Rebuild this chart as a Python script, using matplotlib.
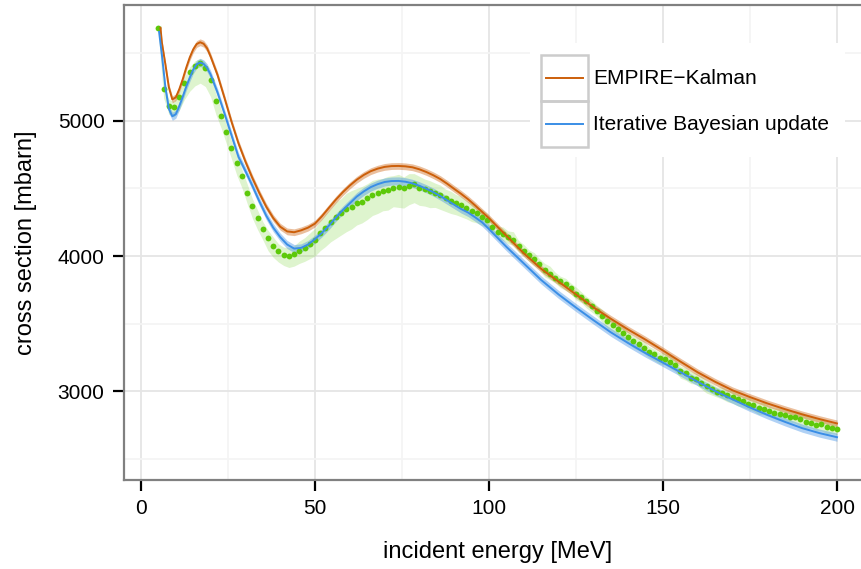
import matplotlib
matplotlib.use("Agg")
import matplotlib.pyplot as plt
from matplotlib.patches import Rectangle
import numpy as np

plt.rcParams["font.family"] = ["Liberation Sans", "DejaVu Sans"]

# EMPIRE-Kalman curve (orange)
kalman_e = [5.6, 6, 7, 8, 9, 10, 11, 12, 13, 14, 15, 16, 17, 18, 19, 20,
            22, 24, 26, 28, 30, 32, 34, 36, 38, 40, 42, 44, 46, 48, 50,
            52, 54, 56, 58, 60, 62, 64, 66, 68, 70, 72, 74, 76, 78, 80,
            82, 84, 86, 88, 90, 92, 94, 96, 98, 100, 105, 110, 115, 120,
            125, 130, 135, 140, 145, 150, 155, 160, 165, 170, 175, 180,
            185, 190, 195, 200]
kalman_xs = [5690, 5580, 5420, 5250, 5160, 5175, 5235, 5310, 5395, 5470,
             5530, 5570, 5583, 5572, 5538, 5478, 5340, 5170, 4995, 4835,
             4700, 4578, 4467, 4365, 4281, 4217, 4182, 4176, 4190, 4210,
             4240, 4295, 4357, 4418, 4473, 4522, 4565, 4600, 4628, 4647,
             4660, 4666, 4667, 4664, 4657, 4642, 4622, 4598, 4570, 4535,
             4497, 4460, 4420, 4375, 4327, 4280, 4150, 4020, 3905, 3810,
             3715, 3620, 3535, 3455, 3380, 3300, 3218, 3138, 3068, 3005,
             2955, 2908, 2866, 2827, 2792, 2760]
kalman_unc = 25

# Iterative Bayesian update curve (blue)
bayes_e = [5.2, 6, 7, 8, 9, 10, 11, 12, 13, 14, 15, 16, 17, 18, 19, 20,
           22, 24, 26, 28, 30, 32, 34, 36, 38, 40, 42, 44, 46, 48, 50,
           52, 54, 56, 58, 60, 62, 64, 66, 68, 70, 72, 74, 76, 78, 80,
           82, 84, 86, 88, 90, 92, 94, 96, 98, 100, 105, 110, 115, 120,
           125, 130, 135, 140, 145, 150, 155, 160, 165, 170, 175, 180,
           185, 190, 195, 200]
bayes_xs = [5660, 5490, 5250, 5090, 5035, 5050, 5110, 5180, 5255, 5320,
            5380, 5420, 5433, 5423, 5393, 5345, 5210, 5055, 4895, 4735,
            4630, 4520, 4405, 4298, 4210, 4140, 4085, 4055, 4060, 4085,
            4125, 4172, 4225, 4285, 4340, 4390, 4440, 4478, 4510, 4532,
            4548, 4555, 4556, 4550, 4538, 4520, 4498, 4473, 4444, 4412,
            4380, 4348, 4322, 4287, 4250, 4200, 4068, 3945, 3822, 3715,
            3618, 3525, 3435, 3355, 3280, 3210, 3140, 3068, 3000, 2938,
            2878, 2823, 2772, 2725, 2688, 2658]
bayes_unc = 30

# experimental data (green), one point every 1.5 MeV from 5 to 200
exp_e = np.arange(5, 200.1, 1.5)
exp_xs = [5690, 5240, 5110, 5100, 5180, 5280, 5360, 5410, 5430, 5395,
          5300, 5150, 5040, 4920, 4800, 4690, 4590, 4470, 4370, 4280,
          4200, 4130, 4075, 4035, 4005, 4000, 4015, 4040, 4060, 4090,
          4120, 4170, 4210, 4255, 4290, 4320, 4350, 4365, 4390, 4400,
          4430, 4450, 4470, 4480, 4490, 4505, 4510, 4500, 4520, 4530,
          4505, 4495, 4478, 4470, 4450, 4430, 4410, 4395, 4375, 4355,
          4330, 4315, 4290, 4270, 4215, 4180, 4160, 4140, 4120, 4075,
          4040, 4010, 3975, 3940, 3900, 3870, 3840, 3815, 3790, 3760,
          3720, 3695, 3665, 3630, 3595, 3555, 3520, 3490, 3460, 3430,
          3400, 3370, 3345, 3320, 3290, 3275, 3245, 3235, 3215, 3195,
          3150, 3130, 3100, 3090, 3060, 3035, 3015, 2995, 2985, 2970,
          2955, 2940, 2925, 2905, 2895, 2875, 2870, 2850, 2840, 2830,
          2825, 2810, 2805, 2790, 2770, 2765, 2750, 2755, 2730, 2725,
          2722]
exp_err_hi = [30, 40, 50, 45, 40, 45, 40, 35, 35, 40,
              45, 55, 50, 60, 55, 60, 50, 65, 55, 60,
              55, 60, 65, 55, 60, 65, 60, 70, 75, 80,
              85, 90, 100, 95, 110, 105, 115, 120, 110, 115,
              105, 110, 100, 95, 100, 90, 95, 85, 90, 80,
              85, 75, 80, 70, 75, 65, 70, 60, 65, 55,
              60, 50, 55, 45, 50, 40, 55, 45, 60, 40,
              45, 35, 50, 40, 45, 55, 40, 35, 45, 40,
              50, 40, 35, 45, 40, 50, 45, 35, 40, 45,
              40, 35, 45, 50, 40, 35, 40, 45, 55, 40,
              35, 40, 45, 40, 50, 45, 40, 35, 45, 40,
              45, 40, 35, 50, 45, 40, 45, 40, 35, 45,
              40, 45, 50, 55, 60, 50, 45, 40, 45, 40,
              35]
exp_err_lo = [40, 70, 60, 70, 100, 120, 140, 150, 150, 140,
              120, 100, 90, 85, 80, 90, 85, 80, 90, 85,
              80, 90, 85, 80, 75, 85, 90, 95, 100, 110,
              120, 130, 140, 150, 160, 165, 170, 165, 160, 155,
              160, 150, 155, 145, 150, 140, 150, 145, 140, 135,
              130, 125, 120, 110, 105, 100, 95, 90, 85, 80,
              75, 70, 65, 60, 55, 50, 45, 50, 40, 45,
              40, 50, 45, 40, 55, 45, 40, 50, 45, 40,
              45, 40, 50, 45, 40, 45, 55, 50, 45, 40,
              45, 50, 45, 40, 45, 50, 45, 40, 45, 50,
              55, 50, 45, 40, 45, 50, 45, 40, 45, 50,
              45, 50, 45, 40, 45, 50, 45, 40, 45, 50,
              45, 40, 45, 50, 45, 40, 45, 50, 45, 40,
              45]

c_kal = "#CC5F0A"
c_bay = "#3A8EE6"
c_exp = "#5DC90A"

fig = plt.figure(figsize=(8.61, 5.69), dpi=100)
ax = fig.add_axes([124 / 861, 89 / 569, 747 / 861, 475 / 569])

exp_xs = np.array(exp_xs)
ax.fill_between(exp_e, exp_xs - np.array(exp_err_lo), exp_xs + np.array(exp_err_hi),
                color=c_exp, alpha=0.2, lw=0, zorder=1)
kalman_xs = np.array(kalman_xs)
bayes_xs = np.array(bayes_xs)
ax.fill_between(kalman_e, kalman_xs - kalman_unc, kalman_xs + kalman_unc,
                color=c_kal, alpha=0.4, lw=0, zorder=2)
ax.fill_between(bayes_e, bayes_xs - bayes_unc, bayes_xs + bayes_unc,
                color=c_bay, alpha=0.4, lw=0, zorder=2)
ax.plot(exp_e, exp_xs, "o", color=c_exp, ms=4.2, mec="none", zorder=3)
ax.plot(kalman_e, kalman_xs, color=c_kal, lw=1.4, zorder=4)
ax.plot(bayes_e, bayes_xs, color=c_bay, lw=1.4, zorder=4)

ax.set_xlim(-4.885, 209.77)
ax.set_ylim(2341, 5859)
ax.set_xticks([0, 50, 100, 150, 200])
ax.set_yticks([3000, 4000, 5000])
ax.set_xticks([25, 75, 125, 175], minor=True)
ax.set_yticks([2500, 3500, 4500, 5500], minor=True)
ax.grid(which="major", color="#E5E5E5", lw=1.3, zorder=0)
ax.grid(which="minor", color="#F4F4F4", lw=1.3, zorder=0)
ax.set_axisbelow(True)
for s in ax.spines.values():
    s.set_color("#808080")
    s.set_linewidth(1.6)
ax.tick_params(which="major", length=8, width=1.6, color="black",
               labelsize=15, pad=6)
ax.tick_params(which="minor", length=0)
ax.set_xlabel("incident energy [MeV]", fontsize=17, labelpad=16)
ax.set_ylabel("cross section [mbarn]", fontsize=17, labelpad=15)

# legend drawn as in ggplot (grey key boxes)
lax = fig.add_axes([530 / 861, 412 / 569, 315 / 861, 114 / 569])
lax.set_xlim(0, 1)
lax.set_ylim(0, 1)
lax.axis("off")
lax.add_patch(Rectangle((0, 0), 1, 1, color="white", zorder=0))
labels = ["EMPIRE\u2212Kalman", "Iterative Bayesian update"]
colors = [c_kal, c_bay]
for i, (lab, col) in enumerate(zip(labels, colors)):
    y0 = 0.491 - i * 0.403
    lax.add_patch(Rectangle((0.034, y0), 0.15, 0.403, fill=False,
                            ec="#CCCCCC", lw=1.8, zorder=1))
    lax.plot([0.05, 0.168], [y0 + 0.2, y0 + 0.2], color=col, lw=1.4)
    lax.text(0.2, y0 + 0.2, lab, fontsize=15, va="center", ha="left")

fig.savefig("out.png", dpi=100)
